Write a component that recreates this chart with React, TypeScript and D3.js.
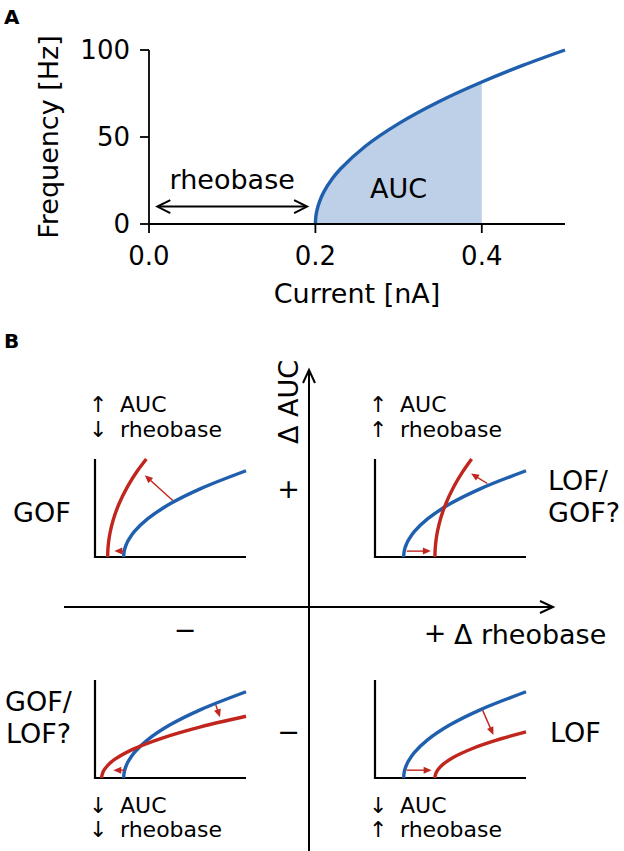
import React from 'react';
import * as d3 from 'd3';

// panel A: f-I curve
const currentNA = [0.2, 0.2005, 0.202, 0.205, 0.21, 0.22, 0.23, 0.26, 0.3, 0.35, 0.4, 0.45, 0.5];
const frequencyHz = [0, 4.1, 8.2, 12.9, 18.3, 25.8, 31.6, 44.7, 57.7, 70.7, 81.6, 91.3, 100];
const aucEnd = 0.4;
const xTicksA = [0, 0.2, 0.4];
const xTickLabelsA = ['0.0', '0.2', '0.4'];
const yTicksA = [0, 50, 100];

// panel B: schematic insets, normalised units
const wtX = [0.19, 0.1905, 0.192, 0.195, 0.2, 0.21, 0.22, 0.26, 0.35, 0.5, 0.7, 1.0];
const wtY = [0, 0.022, 0.044, 0.069, 0.098, 0.138, 0.169, 0.259, 0.391, 0.545, 0.698, 0.88];
const gofX = [0.084, 0.0845, 0.086, 0.09, 0.1, 0.12, 0.16, 0.22, 0.28, 0.34];
const gofY = [0, 0.044, 0.089, 0.153, 0.25, 0.376, 0.546, 0.73, 0.877, 1.0];
const lofGofX = [0.397, 0.3975, 0.399, 0.405, 0.415, 0.435, 0.47, 0.52, 0.58, 0.64];
const lofGofY = [0, 0.045, 0.091, 0.182, 0.272, 0.396, 0.548, 0.712, 0.868, 1.0];
const gofLofX = [0.044, 0.0445, 0.046, 0.05, 0.055, 0.08, 0.13, 0.25, 0.45, 0.7, 1.0];
const gofLofY = [0, 0.014, 0.029, 0.045, 0.068, 0.122, 0.189, 0.292, 0.41, 0.522, 0.63];
const lofX = [0.397, 0.3975, 0.399, 0.402, 0.405, 0.42, 0.45, 0.52, 0.65, 0.8, 1.0];
const lofY = [0, 0.014, 0.027, 0.042, 0.054, 0.092, 0.139, 0.212, 0.304, 0.384, 0.47];

// shift arrows [x1, y1, x2, y2]
const gofArrows = [[0.515, 0.577, 0.33, 0.835], [0.188, 0.06, 0.128, 0.06]];
const lofGofArrows = [[0.21, 0.06, 0.37, 0.06], [0.744, 0.75, 0.636, 0.853]];
const gofLofArrows = [[0.8, 0.745, 0.828, 0.62], [0.194, 0.08, 0.121, 0.08]];
const lofArrows = [[0.21, 0.08, 0.375, 0.08], [0.713, 0.69, 0.784, 0.44]];

const BLUE = '#1f5fad';
const SHADE = '#bdd0e7';
const RED = '#c0261d';
const FONT = 'DejaVu Sans, Verdana, sans-serif';

const zip = (xs: number[], ys: number[]): [number, number][] => xs.map((x, i) => [x, ys[i]]);

function headPath(x1: number, y1: number, x2: number, y2: number, len: number, half: number, closed: boolean) {
  const a = Math.atan2(y2 - y1, x2 - x1);
  const bx = x2 - len * Math.cos(a);
  const by = y2 - len * Math.sin(a);
  const p1 = [bx + half * Math.sin(a), by - half * Math.cos(a)];
  const p2 = [bx - half * Math.sin(a), by + half * Math.cos(a)];
  return `M${p1[0]},${p1[1]}L${x2},${y2}L${p2[0]},${p2[1]}${closed ? 'Z' : ''}`;
}

const Inset: React.FC<{ left: number; bottom: number; red: [number, number][]; arrows: number[][] }> = ({ left, bottom, red, arrows }) => {
  const w = 151;
  const h = 98;
  const x = d3.scaleLinear([0, 1], [left, left + w]);
  const y = d3.scaleLinear([0, 1], [bottom, bottom - h]);
  const line = d3.line<[number, number]>().x(d => x(d[0])).y(d => y(d[1])).curve(d3.curveCatmullRom.alpha(0.5));
  return (
    <g>
      <path d={`M${left},${bottom - h}V${bottom}H${left + w}`} fill="none" stroke="black" strokeWidth={2.2} />
      <path d={line(zip(wtX, wtY)) || ''} fill="none" stroke={BLUE} strokeWidth={3.4} />
      <path d={line(red) || ''} fill="none" stroke={RED} strokeWidth={3.4} />
      {arrows.map((a, i) => {
        const [x1, y1, x2, y2] = [x(a[0]), y(a[1]), x(a[2]), y(a[3])];
        const ang = Math.atan2(y2 - y1, x2 - x1);
        return (
          <g key={i}>
            <line x1={x1} y1={y1} x2={x2 - 6 * Math.cos(ang)} y2={y2 - 6 * Math.sin(ang)} stroke={RED} strokeWidth={1.4} />
            <path d={headPath(x1, y1, x2, y2, 8, 3.5, true)} fill={RED} stroke="none" />
          </g>
        );
      })}
    </g>
  );
};

const App: React.FC = () => {
  const xA = d3.scaleLinear([0, 0.5], [149, 565]);
  const yA = d3.scaleLinear([0, 100], [224, 50]);
  const pts = zip(currentNA, frequencyHz);
  const lineA = d3.line<[number, number]>().x(d => xA(d[0])).y(d => yA(d[1])).curve(d3.curveCatmullRom.alpha(0.5));
  const shaded = pts.filter(d => d[0] <= aucEnd);
  const areaD = (lineA(shaded) || '') + `L${xA(aucEnd)},${yA(0)}L${xA(currentNA[0])},${yA(0)}Z`;

  const ax1 = xA(0.01), ax2 = xA(0.19), ay = yA(10);

  const quadrants = [
    { left: 95, bottom: 557, red: zip(gofX, gofY), arrows: gofArrows },
    { left: 375, bottom: 557, red: zip(lofGofX, lofGofY), arrows: lofGofArrows },
    { left: 95, bottom: 778, red: zip(gofLofX, gofLofY), arrows: gofLofArrows },
    { left: 375, bottom: 778, red: zip(lofX, lofY), arrows: lofArrows },
  ];

  const notes = [
    { x: 89, y: 412, arrow: '↑', word: 'AUC' },
    { x: 89, y: 437, arrow: '↓', word: 'rheobase' },
    { x: 369, y: 412, arrow: '↑', word: 'AUC' },
    { x: 369, y: 437, arrow: '↑', word: 'rheobase' },
    { x: 89, y: 813, arrow: '↓', word: 'AUC' },
    { x: 89, y: 837, arrow: '↓', word: 'rheobase' },
    { x: 369, y: 813, arrow: '↓', word: 'AUC' },
    { x: 369, y: 837, arrow: '↑', word: 'rheobase' },
  ];

  return (
    <svg width={624} height={851} style={{ position: 'absolute', left: 0, top: 0, background: 'white' }} fontFamily={FONT}>
      {/* panel A */}
      <text x={4} y={24} fontSize={20} fontWeight="bold">A</text>
      <path d={areaD} fill={SHADE} stroke="none" />
      <path d={lineA(pts) || ''} fill="none" stroke={BLUE} strokeWidth={3.4} />
      <line x1={xA(0)} x2={xA(0)} y1={yA(0)} y2={yA(100)} stroke="black" strokeWidth={1.8} />
      <line x1={xA(0)} x2={xA(0.5)} y1={yA(0)} y2={yA(0)} stroke="black" strokeWidth={1.8} />
      {xTicksA.map((t, i) => (
        <g key={t}>
          <line x1={xA(t)} x2={xA(t)} y1={yA(0)} y2={yA(0) + 9} stroke="black" strokeWidth={1.8} />
          <text x={xA(t)} y={265} fontSize={26} textAnchor="middle">{xTickLabelsA[i]}</text>
        </g>
      ))}
      {yTicksA.map(t => (
        <g key={t}>
          <line x1={xA(0) - 9} x2={xA(0)} y1={yA(t)} y2={yA(t)} stroke="black" strokeWidth={1.8} />
          <text x={xA(0) - 19} y={yA(t)} dy="0.36em" fontSize={26} textAnchor="end">{t}</text>
        </g>
      ))}
      <text x={(xA(0) + xA(0.5)) / 2} y={303} fontSize={27} textAnchor="middle">Current [nA]</text>
      <text transform={`translate(58,${(yA(0) + yA(100)) / 2}) rotate(-90)`} fontSize={27} textAnchor="middle">Frequency [Hz]</text>
      <line x1={ax1 + 2} x2={ax2 - 2} y1={ay} y2={ay} stroke="black" strokeWidth={2} />
      <path d={headPath(ax2, ay, ax1, ay, 13, 6.5, false)} fill="none" stroke="black" strokeWidth={2} />
      <path d={headPath(ax1, ay, ax2, ay, 13, 6.5, false)} fill="none" stroke="black" strokeWidth={2} />
      <text x={xA(0.1)} y={yA(20)} fontSize={27} textAnchor="middle">rheobase</text>
      <text x={xA(0.3)} y={yA(15)} fontSize={27} textAnchor="middle">AUC</text>

      {/* panel B */}
      <text x={4} y={348} fontSize={20} fontWeight="bold">B</text>
      <line x1={64} x2={552} y1={607} y2={607} stroke="black" strokeWidth={2} />
      <path d={headPath(64, 607, 553, 607, 13, 6, false)} fill="none" stroke="black" strokeWidth={2} />
      <line x1={309} x2={309} y1={860} y2={371} stroke="black" strokeWidth={2} />
      <path d={headPath(309, 860, 309, 370, 13, 6, false)} fill="none" stroke="black" strokeWidth={2} />
      <text transform="translate(298,402) rotate(-90)" fontSize={27} textAnchor="middle">Δ AUC</text>
      <text x={454} y={644} fontSize={27}>Δ rheobase</text>
      <text x={435} y={632} dy="0.36em" fontSize={27} textAnchor="middle">+</text>
      <text x={185} y={629} dy="0.36em" fontSize={27} textAnchor="middle">−</text>
      <text x={288.5} y={488} dy="0.36em" fontSize={27} textAnchor="middle">+</text>
      <text x={288.5} y={731} dy="0.36em" fontSize={27} textAnchor="middle">−</text>

      {quadrants.map((q, i) => <Inset key={i} {...q} />)}

      <g fontSize={22}>
        {notes.map((n, i) => (
          <g key={i}>
            <text x={n.x} y={n.y}>{n.arrow}</text>
            <text x={n.x + 31} y={n.y}>{n.word}</text>
          </g>
        ))}
      </g>
      <g fontSize={27}>
        <text x={13} y={522}>GOF</text>
        <text x={548} y={490}>LOF/</text>
        <text x={548} y={522}>GOF?</text>
        <text x={5} y={711}>GOF/</text>
        <text x={6} y={743}>LOF?</text>
        <text x={550} y={742}>LOF</text>
      </g>
    </svg>
  );
};

export default App;
